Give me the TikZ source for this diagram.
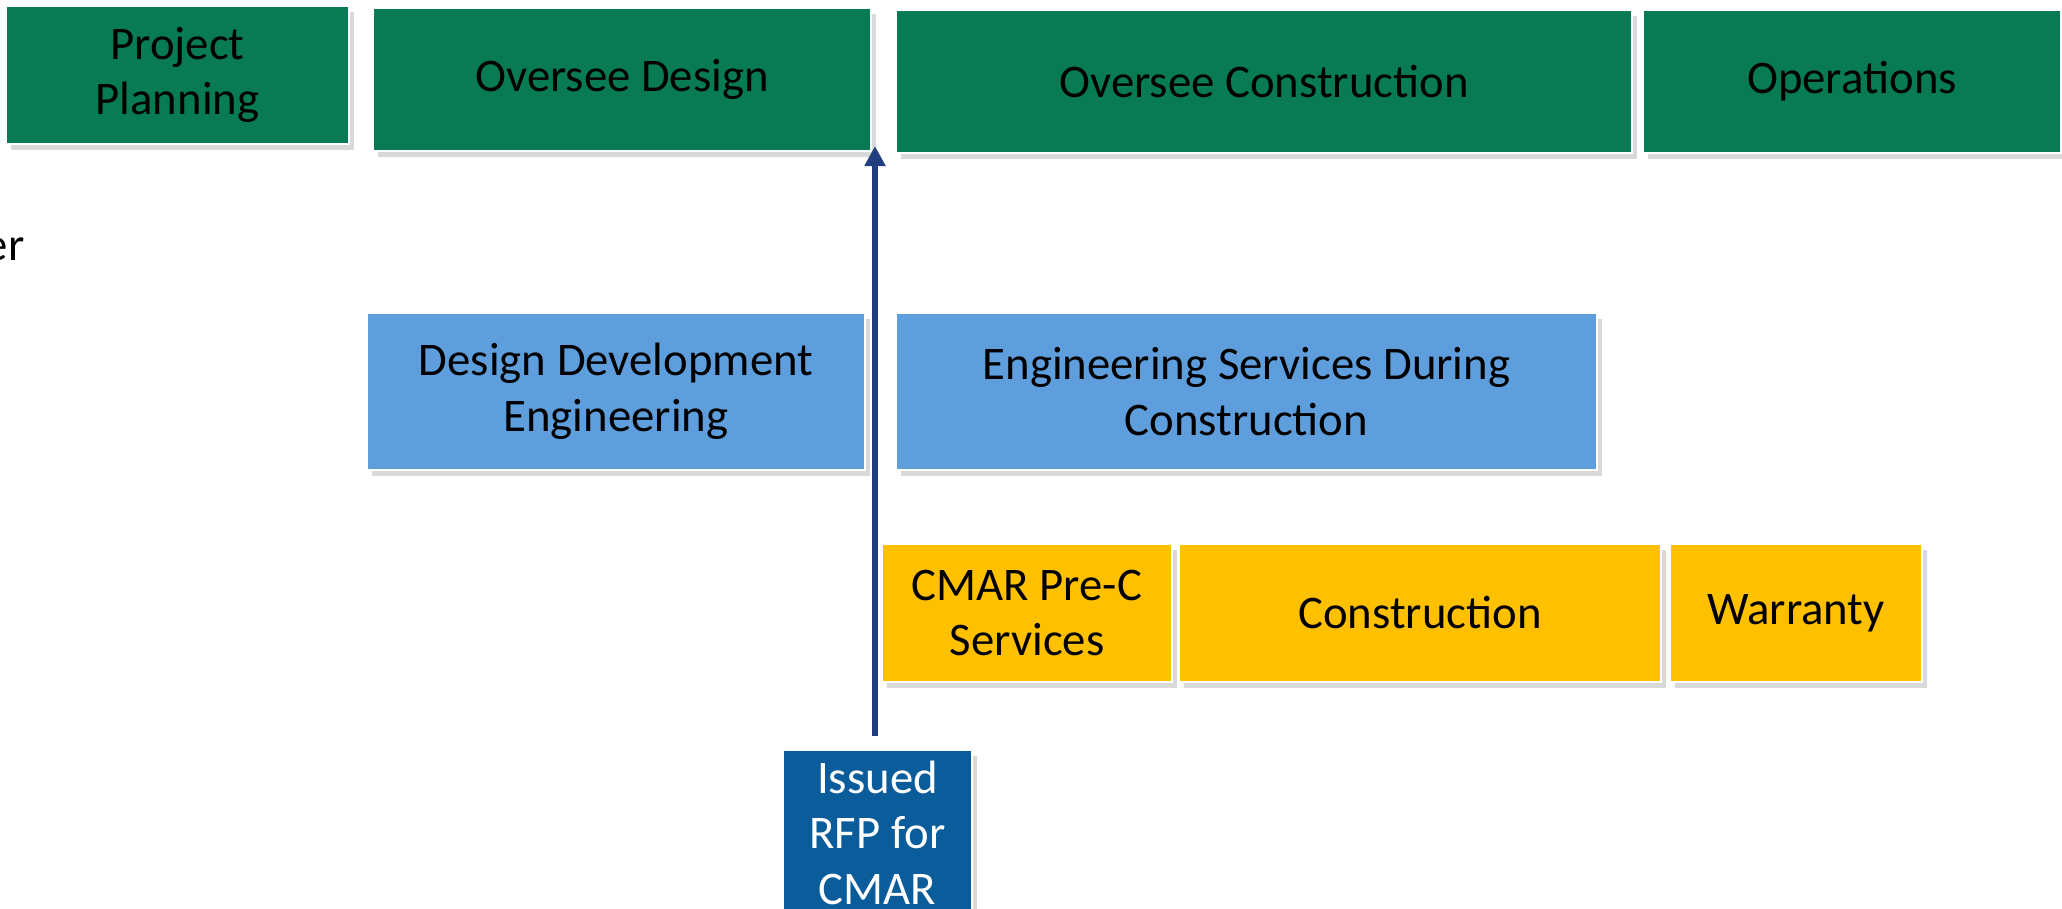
\documentclass[tikz,border=0pt]{standalone}
\usepackage{fontspec}
\setmainfont{Carlito}
\usetikzlibrary{shadows,arrows.meta}
\definecolor{phasegreen}{HTML}{087B55}
\definecolor{engblue}{HTML}{5E9EDC}
\definecolor{cmaryellow}{HTML}{FFC000}
\definecolor{rfpblue}{HTML}{0B5C9B}
\definecolor{arrownavy}{HTML}{233E7E}
\begin{document}
\begin{tikzpicture}[x=0.1mm,y=-0.1mm,
	phase/.style={draw=white,line width=0.6pt,align=center,inner sep=0pt,
		font=\fontsize{13.3}{15.8}\selectfont,
		drop shadow={shadow xshift=0.5mm,shadow yshift=-0.6mm,opacity=0.3}},
	owner/.style={phase,fill=phasegreen},
	engineer/.style={phase,fill=engblue},
	cmar/.style={phase,fill=cmaryellow}]
	\useasboundingbox (0,0) rectangle (2062,908);
	
	% top row
	\node[owner,minimum width=34.3mm,minimum height=13.8mm] (plan) at (177.5,75) {Project\\Planning};
	\node[owner,minimum width=49.8mm,minimum height=14.3mm] (odesign) at (622,79.5) {Oversee Design};
	\node[owner,minimum width=73.6mm,minimum height=14.3mm] (ocons) at (1264,81.5) {Oversee Construction};
	\node[owner,minimum width=41.8mm,minimum height=14.3mm] (ops) at (1852,81.5) {Operations};
	\node[anchor=base east,font=\fontsize{13.3}{15.8}\selectfont,inner sep=0pt] (ownerlbl) at (25,260) {er};
	
	\node[engineer,minimum width=49.8mm,minimum height=15.7mm] (dde) at (616,391.5) {Design Development\\Engineering};
	\node[engineer,minimum width=70.1mm,minimum height=15.7mm] (esdc) at (1246.5,391.5) {Engineering Services During\\Construction};
	
	\node[cmar,minimum width=29mm,minimum height=13.8mm] (prec) at (1027,613) {CMAR Pre-C\\Services};
	\node[cmar,minimum width=48.2mm,minimum height=13.8mm] (cons) at (1420,613) {Construction};
	\node[cmar,minimum width=25.2mm,minimum height=13.8mm] (warr) at (1796,613) {Warranty};
	
	\node[phase,fill=rfpblue,text=white,minimum width=18.9mm,minimum height=16.5mm] (rfp) at (877.5,832.5) {Issued\\RFP for\\CMAR};
	\coordinate (tip) at (875,146);
	\draw[arrownavy,line width=1.7pt,-{Triangle[width=2mm,length=2mm]},shorten <=1.3mm] (rfp.north -| tip) -- (tip);
\end{tikzpicture}
\end{document}
